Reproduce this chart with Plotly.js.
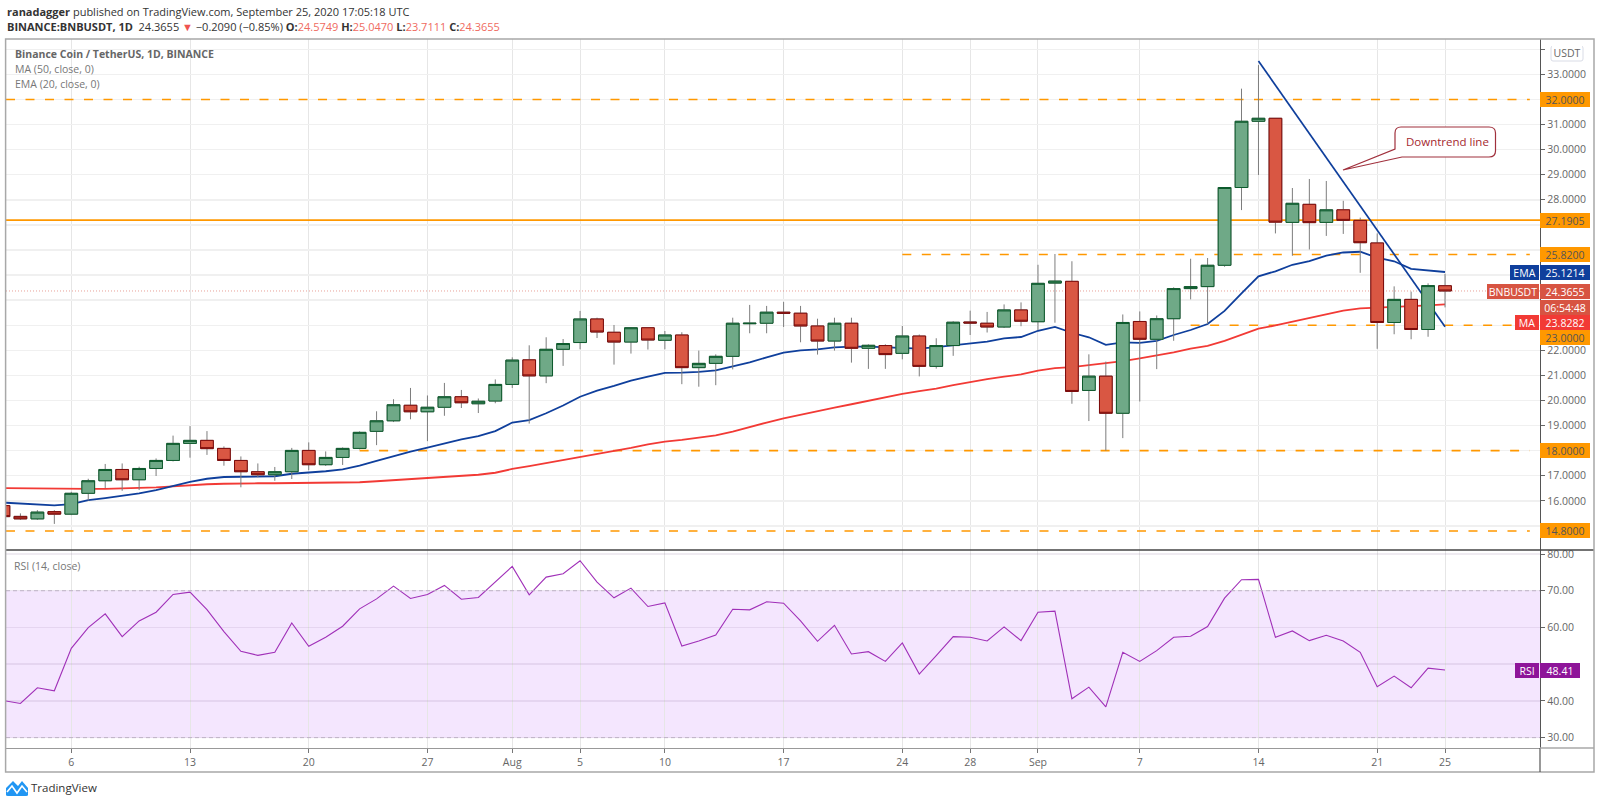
<!DOCTYPE html>
<html><head><meta charset="utf-8">
<script src="https://cdn.plot.ly/plotly-3.0.1.min.js"></script>
<style>html,body{margin:0;padding:0;background:#fff}#c{width:1600px;height:805px}</style>
</head><body><div id="c"></div>
<script>
const dayLabels=["07-02","07-03","07-04","07-05","07-06","07-07","07-08","07-09","07-10","07-11","07-12","07-13","07-14","07-15","07-16","07-17","07-18","07-19","07-20","07-21","07-22","07-23","07-24","07-25","07-26","07-27","07-28","07-29","07-30","07-31","08-01","08-02","08-03","08-04","08-05","08-06","08-07","08-08","08-09","08-10","08-11","08-12","08-13","08-14","08-15","08-16","08-17","08-18","08-19","08-20","08-21","08-22","08-23","08-24","08-25","08-26","08-27","08-28","08-29","08-30","08-31","09-01","09-02","09-03","09-04","09-05","09-06","09-07","09-08","09-09","09-10","09-11","09-12","09-13","09-14","09-15","09-16","09-17","09-18","09-19","09-20","09-21","09-22","09-23","09-24","09-25"];
const opens=[15.81,15.38,15.28,15.57,15.47,16.30,16.80,17.25,16.84,17.29,17.61,18.29,18.41,18.09,17.61,17.16,17.04,17.16,18.01,17.44,17.73,18.09,18.77,19.19,19.81,19.55,19.73,20.15,19.87,19.98,20.64,21.62,20.98,22.04,22.31,23.25,22.72,22.33,22.90,22.40,22.61,21.31,21.48,21.76,23.06,23.08,23.52,23.48,22.97,22.37,23.08,22.08,22.19,21.88,22.57,21.36,22.19,23.13,23.08,22.93,23.61,23.14,24.68,24.75,20.40,20.97,19.49,23.15,22.44,23.26,24.46,24.54,25.39,28.49,31.13,31.25,27.10,27.82,27.10,27.60,27.18,26.28,23.11,24.03,22.83,24.5749];
const highs=[15.90,15.50,15.63,15.63,16.36,16.88,17.47,17.49,17.36,17.69,18.60,18.98,18.78,18.17,17.77,17.49,17.35,18.11,18.33,17.97,18.13,18.77,19.57,20.05,20.50,20.20,20.70,20.42,20.08,20.84,21.72,22.20,22.52,22.45,23.57,23.30,23.01,22.93,22.90,22.77,22.72,21.99,21.84,23.30,23.81,23.77,23.93,23.77,23.26,23.30,23.30,22.24,22.24,22.97,22.63,22.48,23.16,23.58,23.53,23.83,23.91,25.41,25.84,25.55,21.84,21.55,23.43,23.55,23.39,24.51,25.65,25.68,28.49,32.43,33.37,31.25,28.47,28.83,28.75,27.96,27.29,26.66,24.55,24.34,24.67,25.0470];
const lows=[15.30,15.24,15.24,15.08,15.43,16.01,16.51,16.40,16.43,16.99,17.57,17.72,17.83,17.40,16.54,16.94,16.80,16.87,17.22,17.39,17.43,18.05,18.22,19.14,19.25,18.38,19.39,19.70,19.50,19.89,20.50,19.08,20.69,21.38,22.04,22.49,21.43,21.87,22.03,22.04,20.65,20.55,20.61,21.24,22.68,22.68,22.93,22.32,21.83,21.99,21.51,21.26,21.26,21.64,20.96,21.27,21.78,22.61,22.71,22.89,22.96,22.81,23.10,19.87,19.18,18.00,18.50,19.96,21.25,22.38,24.03,23.05,25.33,27.59,28.99,26.66,25.77,26.02,26.56,26.64,25.09,22.06,22.64,22.44,22.54,23.7111];
const closes=[15.37,15.28,15.55,15.47,16.30,16.80,17.25,16.84,17.29,17.61,18.29,18.41,18.08,17.61,17.16,17.04,17.16,18.01,17.44,17.73,18.09,18.73,19.19,19.83,19.55,19.73,20.15,19.91,19.97,20.64,21.61,20.98,22.04,22.27,23.25,22.73,22.33,22.90,22.41,22.61,21.31,21.48,21.76,23.08,23.08,23.52,23.48,22.97,22.37,23.08,22.08,22.20,21.83,22.57,21.36,22.19,23.12,23.09,22.93,23.61,23.16,24.67,24.76,20.36,20.97,19.49,23.11,22.44,23.26,24.46,24.54,25.39,28.49,31.13,31.25,27.11,27.86,27.09,27.60,27.18,26.29,23.11,24.03,22.83,24.58,24.3655];
const ema20=[15.93,15.89,15.85,15.82,15.87,16.03,16.11,16.21,16.30,16.43,16.59,16.76,16.88,16.95,16.96,16.98,16.98,17.08,17.12,17.18,17.25,17.40,17.59,17.79,17.96,18.12,18.30,18.45,18.58,18.78,19.12,19.22,19.49,19.80,20.15,20.39,20.58,20.79,20.95,21.10,21.11,21.14,21.20,21.35,21.52,21.72,21.91,22.00,22.04,22.12,22.15,22.15,22.13,22.09,22.07,22.13,22.21,22.28,22.35,22.48,22.53,22.78,22.93,22.70,22.52,22.22,22.32,22.30,22.38,22.61,22.81,23.05,23.57,24.27,24.95,25.15,25.41,25.56,25.77,25.90,25.93,25.69,25.55,25.25,25.19,25.1214];
const ma50=[16.51,16.50,16.48,16.48,16.48,16.48,16.48,16.50,16.51,16.54,16.58,16.63,16.66,16.68,16.70,16.70,16.70,16.71,16.71,16.70,16.71,16.74,16.78,16.82,16.87,16.91,16.96,17.00,17.04,17.12,17.27,17.38,17.50,17.60,17.72,17.84,17.98,18.11,18.25,18.36,18.43,18.51,18.61,18.76,18.95,19.12,19.29,19.44,19.57,19.72,19.85,19.99,20.13,20.26,20.37,20.47,20.61,20.74,20.85,20.95,21.04,21.19,21.29,21.33,21.41,21.47,21.57,21.68,21.79,21.92,22.07,22.18,22.38,22.62,22.86,22.99,23.14,23.30,23.45,23.58,23.67,23.71,23.74,23.76,23.79,23.8282];
const rsi14=[40.1,39.29,43.57,42.75,54.32,59.96,63.70,57.50,61.78,64.15,68.98,69.62,64.88,58.87,53.50,52.40,53.22,61.24,54.86,57.32,60.33,65.06,67.79,71.26,67.89,68.98,71.44,67.70,68.16,72.53,76.63,68.89,73.71,74.62,78.18,72.35,68.07,70.71,65.70,66.70,54.95,56.32,57.96,64.97,64.79,66.98,66.61,61.78,56.23,60.60,52.77,53.41,50.76,55.77,47.30,52.31,57.50,57.32,56.32,60.14,56.41,64.15,64.43,40.57,43.75,38.38,53.22,50.76,53.68,57.32,57.60,60.24,67.98,72.99,73.08,57.32,59.05,56.41,57.87,56.32,53.22,43.84,46.76,43.57,48.94,48.41];
const trendDates=["2020-09-14","2020-09-25"];
const trendValues=[33.53,22.94];
const dashedLevels=[14.8,18,23,25.82,32];
const dashedStarts=["2020-07-02 03:36","2020-07-23","2020-09-10","2020-08-24","2020-07-02 03:36"];
const solidLevel=27.1905;
const lastPrice=24.3655;
const priceTicks=[15,16,17,18,19,20,21,22,23,24,25,26,27,28,29,30,31,32,33,34];
const priceTickLabels=["","16.0000","17.0000","","19.0000","20.0000","21.0000","22.0000","","","","","","28.0000","29.0000","30.0000","31.0000","","33.0000",""];
const rsiTicks=[30,40,50,60,70,80];
const rsiTickLabels=["30.00","40.00","","60.00","70.00","80.00"];
const timeTickDates=["2020-07-06","2020-07-13","2020-07-20","2020-07-27","2020-08-01","2020-08-05","2020-08-10","2020-08-17","2020-08-24","2020-08-28","2020-09-01","2020-09-07","2020-09-14","2020-09-21","2020-09-25"];
const timeTickLabels=["6","13","20","27","Aug","5","10","17","24","28","Sep","7","14","21","25"];

const dates=dayLabels.map(d=>"2020-"+d);
const xStart="2020-07-02 03:36", xEnd="2020-09-30 14:24", levelEnd="2020-09-30";
const FONT='"Open Sans", sans-serif';
const L=6,R=1540,T=39,B=748;
const X=p=>(p-L)/(R-L), Y=p=>(B-p)/(B-T);
const priceRange=[14.04,34.41], rsiRange=[27.18,81.09], split=(B-550)/(B-T);
const UP='#6fa987',UPL='#0c5a2c',DN='#d95743',DNL='#7c0a0a',WICK='#7d7d7d';

const traces=[];
dashedLevels.forEach((v,i)=>traces.push({type:'scatter',mode:'lines',x:[dashedStarts[i],levelEnd],y:[v,v],line:{color:'#ff9800',width:1.6,dash:'9px,10.5px'},hoverinfo:'skip',showlegend:false}));
traces.push({type:'scatter',mode:'lines',x:[xStart,xEnd],y:[solidLevel,solidLevel],line:{color:'#ff9800',width:1.8},hoverinfo:'skip',showlegend:false});
traces.push({type:'scatter',mode:'lines',x:[xStart,xEnd],y:[lastPrice,lastPrice],line:{color:'rgba(214,84,66,0.55)',width:1,dash:'1px,2px'},hoverinfo:'skip',showlegend:false});
traces.push({type:'scatter',mode:'lines',x:dates,y:ma50,line:{color:'#f23a35',width:1.8},hoverinfo:'skip',showlegend:false});
traces.push({type:'scatter',mode:'lines',x:dates,y:ema20,line:{color:'#0f3f9c',width:1.8},hoverinfo:'skip',showlegend:false});
traces.push({type:'scatter',mode:'lines',x:trendDates,y:trendValues,line:{color:'#0f3f9c',width:1.7},hoverinfo:'skip',showlegend:false});
traces.push({type:'candlestick',x:dates,open:opens,high:highs,low:lows,close:closes,yaxis:'y3',whiskerwidth:0,
  increasing:{line:{color:WICK,width:1},fillcolor:UP},decreasing:{line:{color:WICK,width:1},fillcolor:DN},hoverinfo:'skip',showlegend:false});
traces.push({type:'candlestick',x:dates,open:opens,close:closes,
  high:opens.map((o,i)=>Math.max(o,closes[i])),low:opens.map((o,i)=>Math.min(o,closes[i])),yaxis:'y3',whiskerwidth:0,
  increasing:{line:{color:UPL,width:1},fillcolor:UP},decreasing:{line:{color:DNL,width:1},fillcolor:DN},hoverinfo:'skip',showlegend:false});
traces.push({type:'scatter',mode:'lines',x:dates,y:rsi14,yaxis:'y2',line:{color:'#a030b8',width:1.1},hoverinfo:'skip',showlegend:false});

const txt=(text,x,y,o={})=>Object.assign({text,xref:'paper',yref:'paper',x:X(x),y:Y(y),xanchor:'left',yanchor:'middle',showarrow:false,borderpad:0,font:{family:FONT,size:10.5,color:'#555'}},o);
const box=(text,x0,x1,y,bg,color,border)=>txt(text,x0,y,{width:x1-x0,height:15,align:'center',bgcolor:bg,bordercolor:border||bg,borderwidth:0,font:{family:FONT,size:10.5,color}});
const red=s=>`<span style="color:#ef6a60">${s}</span>`;
const annotations=[
 txt('<b>ranadagger</b> published on TradingView.com, September 25, 2020 17:05:18 UTC',6,11,{font:{family:FONT,size:11,color:'#333'}}),
 txt(`<b>BINANCE:BNBUSDT, 1D</b>  24.3655 ${'<span style="color:#ef5350">▼</span>'} −0.2090 (−0.85%) <b>O:</b>${red('24.5749')} <b>H:</b>${red('25.0470')} <b>L:</b>${red('23.7111')} <b>C:</b>${red('24.3655')}`,6,26,{font:{family:FONT,size:11,color:'#333'}}),
 txt('<b>Binance Coin / TetherUS, 1D, BINANCE</b>',14,54,{font:{family:FONT,size:10.5,color:'#666'}}),
 txt('MA (50, close, 0)',14,69,{font:{family:FONT,size:10.5,color:'#777'}}),
 txt('EMA (20, close, 0)',14,84,{font:{family:FONT,size:10.5,color:'#777'}}),
 txt('RSI (14, close)',13,566,{font:{family:FONT,size:10.5,color:'#777'}}),
 txt('TradingView',30,788,{font:{family:FONT,size:11.5,color:'#333'}}),
 box('USDT',1552,1582,53,'#fff','#666'),
 box('32.0000',1540,1590,99.4,'#ff9800','#555'),
 box('27.1905',1540,1590,220,'#ff9800','#555'),
 box('25.8200',1540,1590,255,'#ff9800','#555'),
 box('EMA',1510,1539,272,'#0f3f9c','#fff'),
 box('25.1214',1540,1590,272,'#0f3f9c','#fff'),
 box('BNBUSDT',1487,1539,291,'#d75442','#fff'),
 box('24.3655',1540,1590,291,'#d75442','#fff'),
 box('06:54:48',1540,1590,307,'#d75442','#fff'),
 box('MA',1515,1539,322,'#f23a35','#fff'),
 box('23.8282',1540,1590,322,'#f23a35','#fff'),
 box('23.0000',1540,1590,337.5,'#ff9800','#555'),
 box('18.0000',1540,1590,450.7,'#ff9800','#555'),
 box('14.8000',1540,1590,530.7,'#ff9800','#555'),
 box('RSI',1515,1539,670,'#8e1599','#fff'),
 box('48.41',1540,1580,670,'#8e1599','#fff'),
 txt('Downtrend line',1405,141.5,{font:{family:FONT,size:11.5,color:'#a5282f'}})
];
const P=(a,b)=>X(a)+','+Y(b);
const shapes=[
 {type:'rect',xref:'paper',yref:'y2',x0:0,x1:1,y0:30,y1:70,fillcolor:'#f4e6fe',line:{width:0},layer:'below'},
 {type:'line',xref:'paper',yref:'y2',x0:0,x1:1,y0:70,y1:70,line:{color:'#bdb2c4',width:1,dash:'4px,3px'},layer:'above'},
 {type:'line',xref:'paper',yref:'y2',x0:0,x1:1,y0:30,y1:30,line:{color:'#bdb2c4',width:1,dash:'4px,3px'},layer:'above'},
 {type:'line',xref:'paper',yref:'paper',x0:0,x1:X(1594),y0:split,y1:split,line:{color:'#444',width:1.3}},
 {type:'rect',xref:'paper',yref:'paper',x0:X(5.6),x1:X(1594),y0:Y(772),y1:Y(39),line:{color:'#a8a8a8',width:1.5}},
 {type:'line',xref:'paper',yref:'paper',x0:1,x1:1,y0:Y(772),y1:Y(748),line:{color:'#555',width:1.2}},
 {type:'line',xref:'paper',yref:'paper',x0:1,x1:X(1594),y0:0,y1:0,line:{color:'#a8a8a8',width:1.5}},
 {type:'path',xref:'paper',yref:'paper',fillcolor:'#fff',line:{color:'#a0303c',width:1.2},
  path:`M${P(1401,127)} L${P(1489,127)} Q${P(1495.5,127)} ${P(1495.5,133)} L${P(1495.5,151)} Q${P(1495.5,157)} ${P(1489,157)} L${P(1402,157)} L${P(1343,170)} L${P(1395,149)} L${P(1395,133)} Q${P(1395,127)} ${P(1401,127)} Z`},
 {type:'path',xref:'paper',yref:'paper',fillcolor:'rgba(0,0,0,0)',line:{color:'#d9dce6',width:1},
  path:`M${P(1553,46)} L${P(1581,46)} Q${P(1583,46)} ${P(1583,48)} L${P(1583,59)} Q${P(1583,61)} ${P(1581,61)} L${P(1553,61)} Q${P(1551,61)} ${P(1551,59)} L${P(1551,48)} Q${P(1551,46)} ${P(1553,46)} Z`},
 {type:'path',xref:'paper',yref:'paper',fillcolor:'#2196f3',line:{width:0},
  path:`M${P(6,795)} L${P(6,788)} L${P(13,781)} L${P(18,786)} L${P(22,781)} L${P(28,788)} L${P(28,795)} Q${P(28,796)} ${P(26,796)} L${P(8,796)} Q${P(6,796)} ${P(6,795)} Z`},
 {type:'path',xref:'paper',yref:'paper',fillcolor:'rgba(0,0,0,0)',line:{color:'#fff',width:1.6},
  path:`M${P(7,792)} L${P(12,786)} L${P(17,793)} L${P(22,786)} L${P(27,792)}`}
];
const axisFont={family:FONT,size:10.5,color:'#666'};
const layout={width:1600,height:805,margin:{l:L,r:1600-R,t:T,b:805-B},paper_bgcolor:'#fff',plot_bgcolor:'#fff',showlegend:false,boxgap:0.25,boxgroupgap:0,boxmode:'overlay',
 xaxis:{type:'date',range:[xStart,xEnd],domain:[0,1],anchor:'y2',tickmode:'array',tickvals:timeTickDates,ticktext:timeTickLabels,showgrid:true,gridcolor:'#e6e6e6',gridwidth:1,ticks:'outside',ticklen:4,tickcolor:'#777',tickfont:axisFont,showline:true,linecolor:'#999',linewidth:1.2,zeroline:false,rangeslider:{visible:false},fixedrange:true},
 yaxis:{domain:[split,1],range:priceRange,side:'right',anchor:'x',tickmode:'array',tickvals:priceTicks,ticktext:priceTickLabels,showgrid:true,gridcolor:'#f0f0f0',gridwidth:1.4,ticks:'outside',ticklen:4,tickcolor:'#666',tickfont:axisFont,showline:true,linecolor:'#555',linewidth:1.2,zeroline:false,fixedrange:true},
 yaxis3:{domain:[split,1],range:priceRange,overlaying:'y',side:'right',visible:false,fixedrange:true},
 yaxis2:{domain:[0,split],range:rsiRange,side:'right',anchor:'x',tickmode:'array',tickvals:rsiTicks,ticktext:rsiTickLabels,showgrid:true,gridcolor:'rgba(120,90,140,0.12)',gridwidth:1.4,ticks:'outside',ticklen:4,tickcolor:'#666',tickfont:axisFont,showline:true,linecolor:'#555',linewidth:1.2,zeroline:false,fixedrange:true},
 annotations,shapes
};
Plotly.newPlot('c',traces,layout,{displayModeBar:false,staticPlot:true});
</script></body></html>
